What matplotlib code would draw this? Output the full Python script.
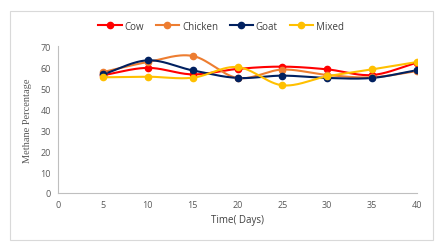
import numpy as np
from matplotlib import pyplot as plt
from matplotlib import patches

days = [5, 10, 15, 20, 25, 30, 35, 40]
cow = [56.2, 59.7, 56.6, 59.2, 60.3, 59.0, 56.3, 62.2]
chicken = [57.7, 62.5, 65.4, 54.9, 58.9, 56.3, 55.2, 58.2]
goat = [56.6, 63.3, 58.5, 54.9, 56.0, 54.9, 54.9, 58.6]
mixed = [55.2, 55.5, 55.0, 60.1, 51.4, 55.7, 59.0, 62.5]

names = ['Cow', 'Chicken', 'Goat', 'Mixed']
colors = ['#FF0000', '#ED7D31', '#002060', '#FFC000']
series = [cow, chicken, goat, mixed]


def smooth(x, y, steps=30):
    # Catmull-Rom style curve through the points (like a spreadsheet "smooth line")
    x = np.asarray(x, float)
    y = np.asarray(y, float)
    px = np.concatenate([[2 * x[0] - x[1]], x, [2 * x[-1] - x[-2]]])
    py = np.concatenate([[2 * y[0] - y[1]], y, [2 * y[-1] - y[-2]]])
    xs, ys = [], []
    t = np.linspace(0, 1, steps)
    for i in range(1, len(px) - 2):
        for p, out in ((px, xs), (py, ys)):
            p0, p1, p2, p3 = p[i - 1], p[i], p[i + 1], p[i + 2]
            m1 = (p2 - p0) / 2
            m2 = (p3 - p1) / 2
            h00 = 2 * t**3 - 3 * t**2 + 1
            h10 = t**3 - 2 * t**2 + t
            h01 = -2 * t**3 + 3 * t**2
            h11 = t**3 - t**2
            out.extend(h00 * p1 + h10 * m1 + h01 * p2 + h11 * m2)
    return np.array(xs), np.array(ys)


plt.rcParams['font.family'] = ['Open Sans', 'DejaVu Sans']
fig = plt.figure(figsize=(4.42, 2.53), dpi=100)
fig.patches.append(patches.Rectangle((10 / 442, 12 / 253), 423 / 442, 229 / 253,
                                     transform=fig.transFigure, fill=False,
                                     edgecolor='#d9d9d9', linewidth=0.8))
ax = fig.add_axes([58 / 442, 1 - 194 / 253, 359 / 442, 146.7 / 253])

for name, c, vals in zip(names, colors, series):
    sx, sy = smooth(days, vals)
    ax.plot(sx, sy, color=c, linewidth=1.5, zorder=2)
    ax.plot(days, vals, 'o', color=c, markersize=4.5, zorder=3)
    ax.plot([], [], '-o', color=c, linewidth=1.5, markersize=4.5, label=name)

ax.set_xlim(0, 40)
ax.set_ylim(0, 70)
ax.set_xticks(range(0, 41, 5))
ax.set_yticks(range(0, 71, 10))
for s in ['top', 'right']:
    ax.spines[s].set_visible(False)
for s in ['left', 'bottom']:
    ax.spines[s].set_color('#bfbfbf')
    ax.spines[s].set_linewidth(0.8)
ax.tick_params(length=0, labelsize=6.5, colors='#595959', pad=5)
ax.set_xlabel('Time( Days)', fontsize=7, color='#404040', labelpad=4)
ax.set_ylabel('Methane Percentage', fontsize=7.5, color='#595959',
              family='Liberation Serif', labelpad=6)
fig.legend(loc='center', bbox_to_anchor=(0.5, 1 - 27 / 253), ncol=4, frameon=False,
           fontsize=7, handlelength=2.4, columnspacing=1.2, handletextpad=0.3,
           labelcolor='#404040')

fig.savefig('out.png', dpi=100)
